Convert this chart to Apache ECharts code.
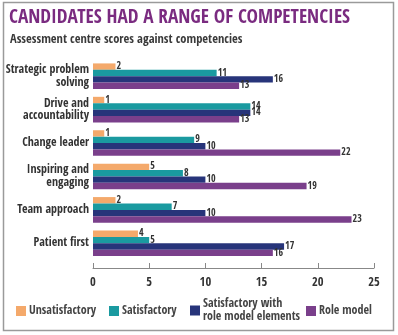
<!DOCTYPE html>
<html><head><meta charset="utf-8">
<script src="https://cdn.jsdelivr.net/npm/echarts@6/dist/echarts.min.js"></script>
<style>html,body{margin:0;padding:0;background:#fff}#c{width:398px;height:335px}</style>
</head><body><div id="c"></div>
<script>
var categories = ["Strategic problem\nsolving", "Drive and\naccountability", "Change leader", "Inspiring and\nengaging", "Team approach", "Patient first"];
var unsatisfactory = [2, 1, 1, 5, 2, 4];
var satisfactory = [11, 14, 9, 8, 7, 5];
var satisfactoryRM = [16, 14, 10, 10, 10, 17];
var roleModel = [13, 13, 22, 19, 23, 16];
var seriesNames = ["Unsatisfactory", "Satisfactory", "Satisfactory with\nrole model elements", "Role model"];
var colors = ["#f4a96b", "#1a9aa0", "#27347a", "#7a3f8b"];
var xTicks = [0, 5, 10, 15, 20, 25];

var font = '"Open Sans Condensed","Roboto Condensed","DejaVu Sans Condensed",sans-serif';
var chart = echarts.init(document.getElementById('c'), null, {renderer: 'canvas'});
var data = [unsatisfactory, satisfactory, satisfactoryRM, roleModel];
var series = data.map(function (d, i) {
  return {
    name: seriesNames[i], type: 'bar', data: d, barWidth: 6.4, barGap: '0%',
    itemStyle: {color: colors[i]},
    label: {show: true, position: 'right', distance: 1, fontSize: 10, color: '#333', fontFamily: font}
  };
});
var legendX = [16, 109, 190, 306];
var legends = seriesNames.map(function (n, i) {
  var two = n.indexOf('\n') >= 0;
  return {
    data: [n], left: legendX[i], top: two ? 291 : 304.5, orient: 'horizontal', itemWidth: 10, itemHeight: 10,
    itemGap: 0, icon: 'rect', selectedMode: false, padding: 0,
    textStyle: {fontFamily: font, fontWeight: 'bold', fontSize: 12, color: '#444', lineHeight: 13,
      padding: two ? [13, 0, 0, -2] : [0, 0, 0, -2]}
  };
});
chart.setOption({
  animation: false,
  color: colors,
  title: [{
    text: 'CANDIDATES HAD A RANGE OF COMPETENCIES', left: 7, top: 6, padding: 2,
    textStyle: {fontFamily: font, fontWeight: 'bold', fontSize: 19.3, color: '#7a2b80'}
  }, {
    text: 'Assessment centre scores against competencies', left: 8, top: 31, padding: 2,
    textStyle: {fontFamily: font, fontWeight: 'bold', fontSize: 12.5, color: '#3a3a3a'}
  }],
  legend: legends,
  grid: {left: 93, right: 24, top: 59.5, height: 200.5, containLabel: false, outerBoundsMode: 'none'},
  xAxis: {
    type: 'value', min: 0, max: 25, interval: 5, offset: 8,
    axisLine: {show: true, lineStyle: {color: '#888'}},
    axisTick: {show: true, inside: true, length: 5, lineStyle: {color: '#888'}},
    splitLine: {show: false},
    axisLabel: {fontFamily: font, fontWeight: 'bold', fontSize: 12.5, color: '#333', margin: 8,
      formatter: function (v) { return xTicks.indexOf(v) >= 0 ? String(v) : ''; }}
  },
  yAxis: {
    type: 'category', data: categories, inverse: true,
    axisLine: {show: false}, axisTick: {show: false},
    axisLabel: {fontFamily: font, fontWeight: 'bold', fontSize: 12, color: '#333', margin: 4, lineHeight: 12.5}
  },
  series: series,
  graphic: [{
    type: 'rect', shape: {x: 3.5, y: 2.5, width: 390, height: 328},
    style: {fill: 'none', stroke: '#9a9a9a', lineWidth: 1.5}, silent: true
  }]
});
</script></body></html>
